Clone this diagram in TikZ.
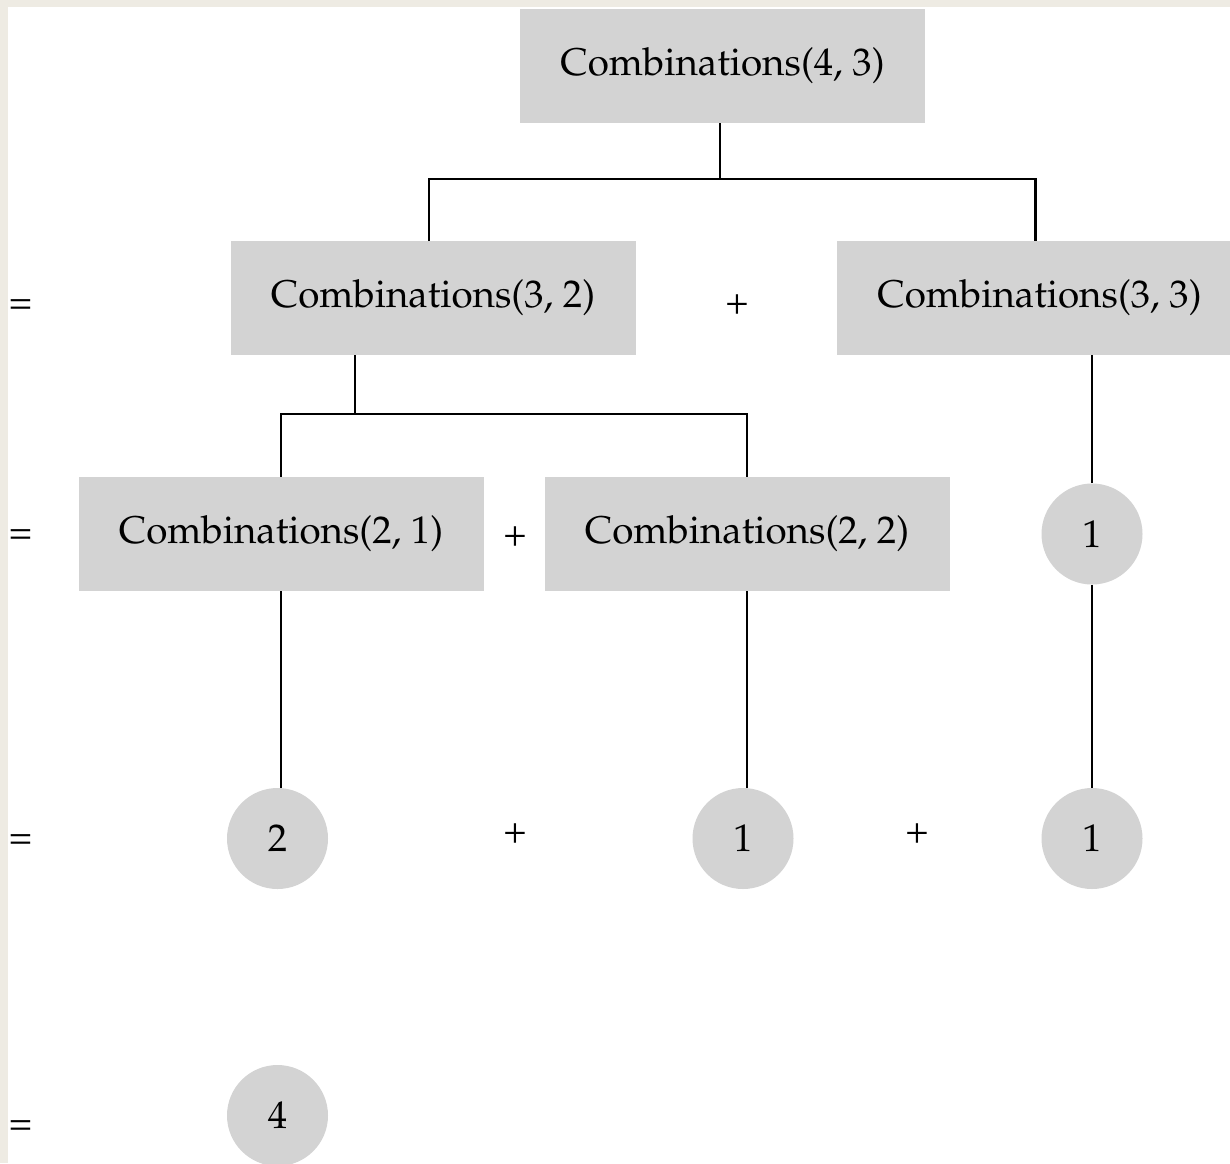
\documentclass[tikz,border=0pt]{standalone}
\usepackage[T1]{fontenc}
\usepackage{mathpazo}
\usepackage{tikz}
\definecolor{boxgray}{HTML}{D3D3D3}
\definecolor{framebeige}{HTML}{EEEBE3}

\begin{document}
\begin{tikzpicture}[x=0.5pt,y=-0.5pt,
  font=\fontsize{19.3}{23}\selectfont,
  call/.style={fill=boxgray,minimum width=202.5pt,minimum height=57pt,inner sep=0pt},
  leaf/.style={circle,fill=boxgray,minimum size=50.5pt,inner sep=0pt},
  link/.style={line width=1.3pt,black},
  sign/.style={inner sep=0pt}]
  \useasboundingbox (0,0) rectangle (1230,1163);
  \fill[framebeige] (0,0) rectangle (1230,1163);
  \fill[white] (8,7) rectangle (1230,1163);
  \begin{scope}
  \clip (8,7) rectangle (1230,1163);
  % calls
  \node[call] (c43) at (722.5,66) {Combinations(4, 3)};
  \node[call] (c32) at (433,298) {Combinations(3, 2)};
  \node[call] (c33) at (1039.5,298) {Combinations(3, 3)};
  \node[call] (c21) at (281,534) {Combinations(2, 1)};
  \node[call] (c22) at (747,534) {Combinations(2, 2)};
  % values
  \node[leaf] (v33) at (1092,534) {1};
  \node[leaf] (v21) at (277.5,838.5) {2};
  \node[leaf] (v22) at (743,838.5) {1};
  \node[leaf] (v33b) at (1092,838.5) {1};
  \node[leaf] (sum) at (277.5,1115.5) {4};
  \end{scope}
  % signs
  \node[sign] (eqa) at (20.5,307.5) {=};
  \node[sign] (eqb) at (20.5,537.5) {=};
  \node[sign] (eqc) at (20.5,842.5) {=};
  \node[sign] (eqd) at (20.5,1128.5) {=};
  \node[sign] (pla) at (737,305) {+};
  \node[sign] (plb) at (515,537) {+};
  \node[sign] (plc) at (515,834) {+};
  \node[sign] (pld) at (917,834) {+};
  % tree
  \coordinate (j1) at (720,179);
  \coordinate (j2) at (355,414);
  \draw[link] (j1 |- c43.south) -- (j1);
  \draw[link] ([xshift=-2pt]c32.north) |- (j1) -| ([xshift=-2pt]c33.north);
  \draw[link] (j2 |- c32.south) -- (j2);
  \draw[link] (c21.north) |- (j2) -| (c22.north);
  \draw[link] (v33.north) -- (v33.north |- c33.south);
  \draw[link] (v33) -- (v33b);
  \draw[link] (c21.south) -- (c21.south |- v21.north);
  \draw[link] (c22.south) -- (c22.south |- v22.north);
\end{tikzpicture}
\end{document}
